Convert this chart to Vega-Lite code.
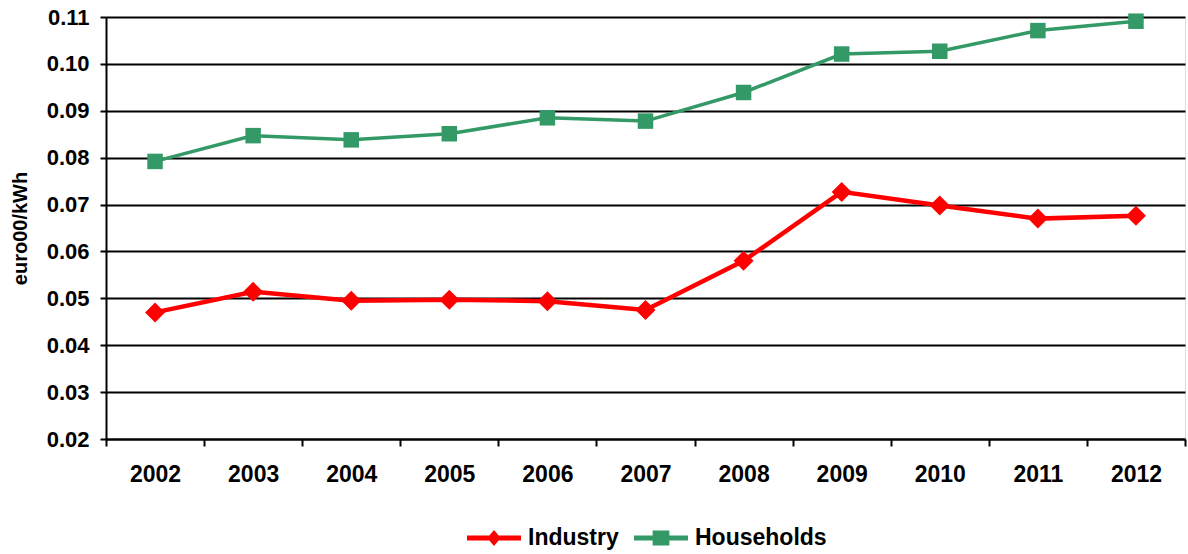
{
  "$schema": "https://vega.github.io/schema/vega-lite/v6.json",
  "width": 1079,
  "height": 422,
  "autosize": {"type": "none"},
  "padding": {"left": 106, "top": 17, "right": 3, "bottom": 115},
  "background": "white",
  "data": {
    "values": [
      {"year": "2002", "series": "Industry", "value": 0.0470},
      {"year": "2003", "series": "Industry", "value": 0.0514},
      {"year": "2004", "series": "Industry", "value": 0.0495},
      {"year": "2005", "series": "Industry", "value": 0.0497},
      {"year": "2006", "series": "Industry", "value": 0.0494},
      {"year": "2007", "series": "Industry", "value": 0.0475},
      {"year": "2008", "series": "Industry", "value": 0.0580},
      {"year": "2009", "series": "Industry", "value": 0.0727},
      {"year": "2010", "series": "Industry", "value": 0.0698},
      {"year": "2011", "series": "Industry", "value": 0.0670},
      {"year": "2012", "series": "Industry", "value": 0.0676},
      {"year": "2002", "series": "Households", "value": 0.0792},
      {"year": "2003", "series": "Households", "value": 0.0847},
      {"year": "2004", "series": "Households", "value": 0.0838},
      {"year": "2005", "series": "Households", "value": 0.0851},
      {"year": "2006", "series": "Households", "value": 0.0885},
      {"year": "2007", "series": "Households", "value": 0.0878},
      {"year": "2008", "series": "Households", "value": 0.0939},
      {"year": "2009", "series": "Households", "value": 0.1021},
      {"year": "2010", "series": "Households", "value": 0.1027},
      {"year": "2011", "series": "Households", "value": 0.1071},
      {"year": "2012", "series": "Households", "value": 0.1091}
    ]
  },
  "encoding": {
    "x": {
      "field": "year",
      "type": "ordinal",
      "scale": {"paddingInner": 0, "paddingOuter": 0},
      "axis": {
        "title": null,
        "labelAngle": 0,
        "labelFont": "Liberation Sans",
        "labelFontWeight": "bold",
        "labelFontSize": 23,
        "labelColor": "black",
        "labelPadding": 17,
        "tickBand": "extent",
        "tickSize": 7,
        "tickWidth": 2,
        "tickColor": "black",
        "domainColor": "black",
        "domainWidth": 2,
        "grid": false
      }
    },
    "y": {
      "field": "value",
      "type": "quantitative",
      "scale": {"domain": [0.02, 0.11], "nice": false, "zero": false},
      "axis": {
        "values": [0.02, 0.03, 0.04, 0.05, 0.06, 0.07, 0.08, 0.09, 0.1, 0.11],
        "format": ".2f",
        "title": "euro00/kWh",
        "titleFont": "Liberation Sans",
        "titleFontSize": 20,
        "titleFontWeight": "bold",
        "titleColor": "black",
        "titlePadding": 16,
        "labelFont": "Liberation Sans",
        "labelFontWeight": "bold",
        "labelFontSize": 22,
        "labelColor": "black",
        "labelPadding": 11,
        "tickSize": 6,
        "tickWidth": 2,
        "tickColor": "black",
        "domainColor": "black",
        "domainWidth": 2,
        "grid": true,
        "gridColor": "black",
        "gridWidth": 2,
        "gridOpacity": 1
      }
    },
    "color": {
      "field": "series",
      "type": "nominal",
      "scale": {"domain": ["Industry", "Households"], "range": ["#ff0000", "#339966"]},
      "legend": {
        "title": null,
        "orient": "none",
        "legendX": 361,
        "legendY": 494,
        "direction": "horizontal",
        "padding": 0,
        "labelFont": "Liberation Sans",
        "labelFontWeight": "bold",
        "labelFontSize": 23,
        "labelColor": "black",
        "labelOffset": 7,
        "columnPadding": 15,
        "symbolSize": 2916,
        "symbolStrokeWidth": 0,
        "encode": {
          "symbols": {
            "update": {
              "shape": {"signal": "datum.value === 'Industry' ? 'M-1,-0.093H1V0.093H-1Z M0,-0.3L0.25,0L0,0.3L-0.25,0Z' : 'M-1,-0.093H1V0.093H-1Z M-0.31,-0.28H0.31V0.28H-0.31Z'"},
              "size": {"value": 2916},
              "fill": {"scale": "color", "field": "value"},
              "fillOpacity": {"value": 1},
              "opacity": {"value": 1},
              "strokeWidth": {"value": 0}
            }
          }
        }
      }
    }
  },
  "layer": [
    {
      "transform": [{"filter": "datum.series === 'Industry'"}],
      "mark": {"type": "line", "strokeWidth": 4.5}
    },
    {
      "transform": [{"filter": "datum.series === 'Households'"}],
      "mark": {"type": "line", "strokeWidth": 3.5}
    },
    {
      "transform": [{"filter": "datum.series === 'Industry'"}],
      "mark": {"type": "point", "filled": true, "opacity": 1, "shape": "diamond", "size": 400}
    },
    {
      "transform": [{"filter": "datum.series === 'Households'"}],
      "mark": {"type": "point", "filled": true, "opacity": 1, "shape": "square", "size": 240}
    }
  ]
}
